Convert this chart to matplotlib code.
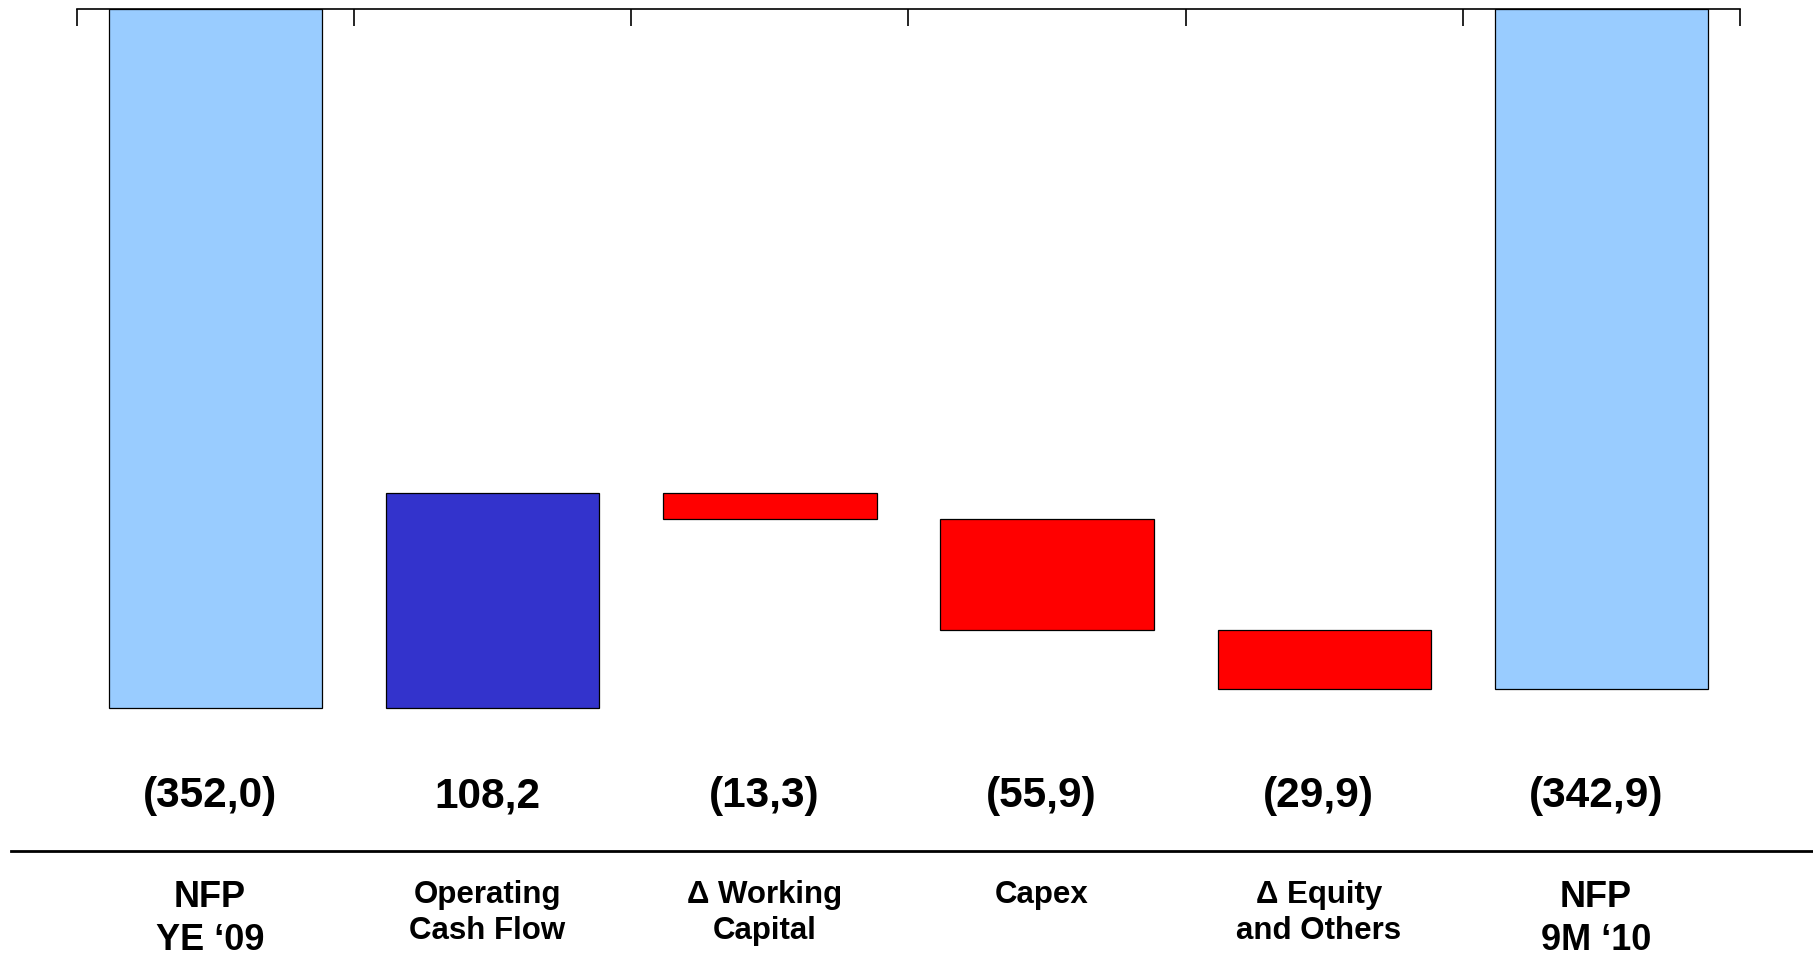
import matplotlib.pyplot as plt
import matplotlib.transforms as mtransforms
import numpy as np

# NFP bridge, EUR m
categories = ["NFP\nYE \u201809", "Operating\nCash Flow", "\u0394 Working\nCapital",
              "Capex", "\u0394 Equity\nand Others", "NFP\n9M \u201810"]
values = [-352.0, 108.2, -13.3, -55.9, -29.9, -342.9]
value_labels = ["(352,0)", "108,2", "(13,3)", "(55,9)", "(29,9)", "(342,9)"]
is_total = [True, False, False, False, False, True]

bar_colors = []
for i, v in enumerate(values):
    if is_total[i]:
        bar_colors.append("#99CCFF")
    elif v > 0:
        bar_colors.append("#3333CC")
    else:
        bar_colors.append("#FF0000")

# running total gives the base of each floating bar
bottoms = []
running = 0.0
for i, v in enumerate(values):
    if is_total[i]:
        bottoms.append(0.0)
        running = v
    else:
        bottoms.append(running)
        running += v

plt.rcParams['font.family'] = ['Liberation Sans', 'DejaVu Sans']

fig = plt.figure(figsize=(18.13, 9.59), dpi=100)
ax = fig.add_axes([0.0425, 0.2492, 0.9172, 0.7409])

x = np.arange(len(categories))
ax.bar(x, values, bottom=bottoms, width=0.77, color=bar_colors,
       edgecolor="black", linewidth=0.9, zorder=3)

ax.set_xlim(-0.5, len(categories) - 0.5)
ax.set_ylim(-358.3, 0)

# only the top spine with ticks between the categories
for side in ["left", "right", "bottom"]:
    ax.spines[side].set_visible(False)
ax.spines["top"].set_linewidth(1.2)
ax.xaxis.tick_top()
ax.set_xticks(np.arange(-0.5, len(categories), 1.0))
ax.set_xticklabels([])
ax.tick_params(axis="x", direction="in", length=12, width=1.2, top=True, bottom=False)
ax.set_yticks([])

trans = mtransforms.blended_transform_factory(ax.transData, fig.transFigure)

for i in range(len(categories)):
    ax.text(x[i] - 0.02, 0.1695, value_labels[i], transform=trans,
            ha="center", va="center", fontsize=30.5, fontweight="bold")
    big = is_total[i]
    ax.text(x[i] - 0.02, 0.082, categories[i], transform=trans,
            ha="center", va="top", fontsize=26 if big else 22.5,
            fontweight="bold", linespacing=1.3 if big else 1.25,
            clip_on=False)

# separator between value row and category names
fig.add_artist(plt.Line2D([0.0063, 1.0], [0.1121, 0.1121], transform=fig.transFigure,
                          color="black", linewidth=2))

fig.savefig("out.png", dpi=100)
